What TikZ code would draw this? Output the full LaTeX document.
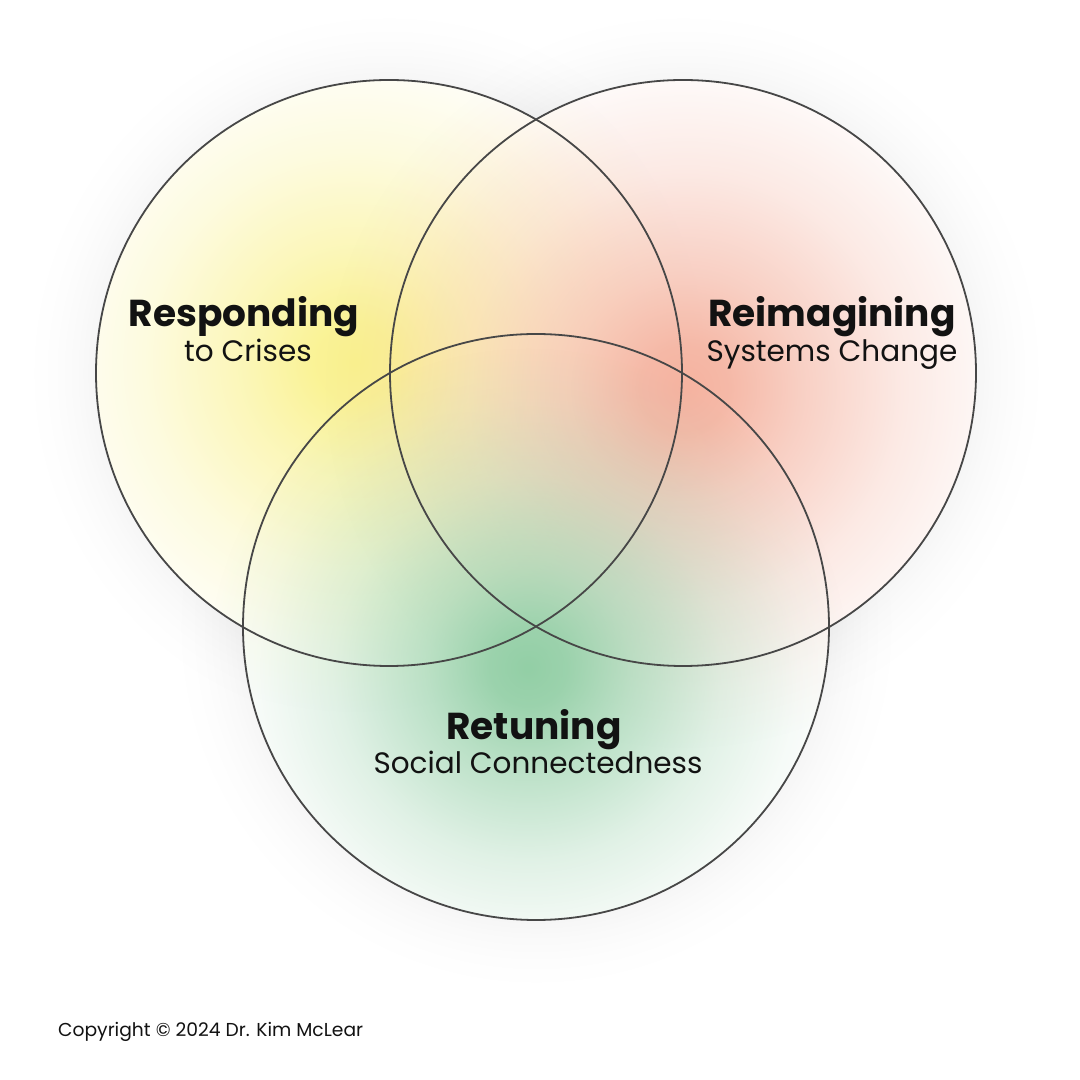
\documentclass[tikz,border=0pt]{standalone}
\usepackage{fontspec}
\setmainfont{Poppins}
\usetikzlibrary{fadings}
\definecolor{glowY}{HTML}{FAF28E}
\definecolor{glowR}{HTML}{F5B3A0}
\definecolor{glowG}{HTML}{93CFA6}
\definecolor{ringC}{HTML}{474747}
\definecolor{txtC}{HTML}{121212}
\pgfdeclareradialshading{glowsh}{\pgfpointorigin}{color(0bp)=(pgftransparent!0); color(3bp)=(pgftransparent!8); color(8bp)=(pgftransparent!38); color(15bp)=(pgftransparent!72); color(21bp)=(pgftransparent!92); color(25bp)=(pgftransparent!100); color(50bp)=(pgftransparent!100)}
\pgfdeclarefading{glowfade}{\pgfuseshading{glowsh}}
\pgfdeclareradialshading{shadowsh}{\pgfpointorigin}{color(0bp)=(pgftransparent!0); color(20bp)=(pgftransparent!0); color(21.5bp)=(pgftransparent!45); color(23.2bp)=(pgftransparent!80); color(25bp)=(pgftransparent!100); color(50bp)=(pgftransparent!100)}
\pgfdeclarefading{shadowfade}{\pgfuseshading{shadowsh}}
\tikzset{
  ring/.style={draw=ringC, line width=1.8pt},
  title/.style={font=\fontsize{37.5}{42}\selectfont\bfseries, text=txtC, anchor=base, inner sep=0pt},
  subtitle/.style={font=\fontsize{29.5}{34}\selectfont, text=txtC, anchor=base, inner sep=0pt},
  copy/.style={font=\fontsize{18.7}{22}\selectfont, text=txtC, anchor=base west, inner sep=0pt}
}
\begin{document}
\begin{tikzpicture}[x=1pt,y=1pt]
\fill[white] (0,0) rectangle (1080,1080);
\useasboundingbox (0,0) rectangle (1080,1080);
\coordinate (L) at (389,707);
\coordinate (R) at (683,707);
\coordinate (B) at (536,453);
% soft shadows
\foreach \c in {L,R,B}{
  \fill[black, opacity=0.04, path fading=shadowfade] (\c) circle (360pt);
}
% circle bodies
\fill[white] (L) circle (293pt) (R) circle (293pt) (B) circle (293pt);
% glows
\begin{scope}
  \clip (L) circle (293pt) (R) circle (293pt) (B) circle (293pt);
  \fill[glowY, path fading=glowfade] (355,718) circle (350pt);
  \fill[glowR, path fading=glowfade] (685,692) circle (360pt);
  \fill[glowG, path fading=glowfade] (528,412) circle (320pt);
\end{scope}
% outlines
\draw[ring] (L) circle (293pt);
\draw[ring] (R) circle (293pt);
\draw[ring] (B) circle (293pt);
% labels
\node[title] (t1) at (244,753) {Responding};
\node[subtitle] (s1) at (248,718) {to Crises};
\node[title] (t2) at (832,753) {Reimagining};
\node[subtitle] (s2) at (832,718) {Systems Change};
\node[title] (t3) at (534,340) {Retuning};
\node[subtitle] (s3) at (538,306) {Social Connectedness};
\node[copy] (cp) at (58,43) {Copyright © 2024 Dr. Kim McLear};
\end{tikzpicture}
\end{document}
